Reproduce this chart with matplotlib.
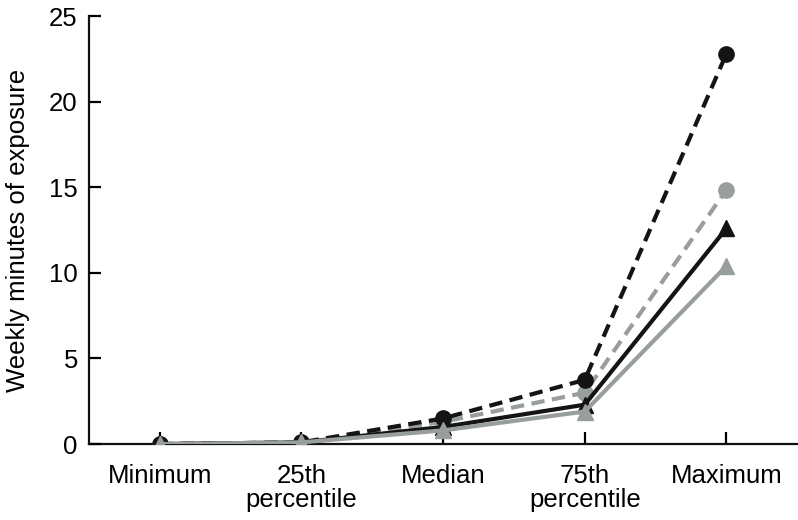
import matplotlib
matplotlib.use("Agg")
import matplotlib.pyplot as plt

plt.rcParams['font.family'] = ['Liberation Sans', 'DejaVu Sans']

# Data
categories = ["Minimum", "25th\npercentile", "Median", "75th\npercentile", "Maximum"]
black_dashed = [0.0, 0.1, 1.5, 3.75, 22.8]
grey_dashed = [0.0, 0.1, 1.3, 3.0, 14.85]
black_solid = [0.0, 0.1, 1.0, 2.3, 12.6]
grey_solid = [0.0, 0.1, 0.8, 1.9, 10.4]
y_ticks = [0, 5, 10, 15, 20, 25]

black = "#141414"
grey = "#989d9d"
fs = 18.5

fig = plt.figure(figsize=(7.98, 5.20), dpi=100)
ax = fig.add_axes([0.1115, 0.146, 0.8875, 0.823])

x = range(len(categories))
lw = 3.0
dash = (0, (3.2, 1.8))
ax.plot(x, black_dashed, color=black, linestyle=dash, linewidth=lw,
        marker='o', markersize=11, zorder=4)
ax.plot(x, grey_dashed, color=grey, linestyle=dash, linewidth=lw,
        marker='o', markersize=11, zorder=3)
ax.plot(x, black_solid, color=black, linestyle='-', linewidth=lw,
        marker='^', markersize=12, zorder=5)
ax.plot(x, grey_solid, color=grey, linestyle='-', linewidth=lw,
        marker='^', markersize=12, zorder=6)

ax.set_xlim(-0.5, 4.5)
ax.set_ylim(0, 25)
ax.set_xticks(list(x))
ax.set_xticklabels(categories, fontsize=fs, linespacing=1.05)
ax.set_yticks(y_ticks)
ax.set_yticklabels([str(v) for v in y_ticks], fontsize=fs)
ax.set_ylabel("Weekly minutes of exposure", fontsize=fs, labelpad=14)

ax.spines['top'].set_visible(False)
ax.spines['right'].set_visible(False)
ax.tick_params(axis='x', direction='in', length=8.5, width=1.6, pad=14)
ax.tick_params(axis='y', direction='in', length=8.5, width=1.6, pad=8)

for sp in ax.spines.values():
    sp.set_color("#111111")
    sp.set_linewidth(1.6)
    sp.set_zorder(1)

fig.savefig("out.png", dpi=100)
